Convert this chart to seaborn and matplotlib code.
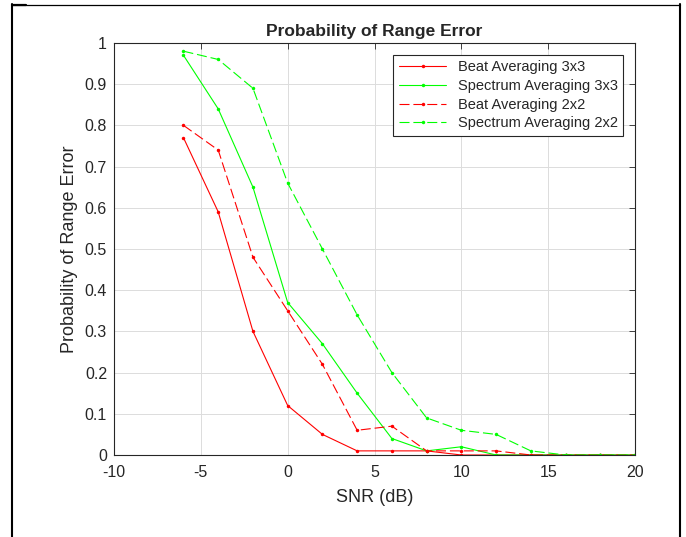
import numpy as np
import matplotlib
matplotlib.use("Agg")
import matplotlib.pyplot as plt
import seaborn as sns
from matplotlib.lines import Line2D
from matplotlib.ticker import FuncFormatter

# valores
snr_db = [-6, -4, -2, 0, 2, 4, 6, 8, 10, 12, 14, 16, 18, 20]
beat_3x3 = [0.77, 0.59, 0.30, 0.12, 0.05, 0.01, 0.01, 0.01, 0.00, 0.00, 0.00, 0.00, 0.00, 0.00]
spectrum_3x3 = [0.97, 0.84, 0.65, 0.37, 0.27, 0.15, 0.04, 0.01, 0.02, 0.00, 0.00, 0.00, 0.00, 0.00]
beat_2x2 = [0.80, 0.74, 0.48, 0.35, 0.22, 0.06, 0.07, 0.01, 0.01, 0.01, 0.00, 0.00, 0.00, 0.00]
spectrum_2x2 = [0.98, 0.96, 0.89, 0.66, 0.50, 0.34, 0.20, 0.09, 0.06, 0.05, 0.01, 0.00, 0.00, 0.00]

series_names = ["Beat Averaging 3x3", "Spectrum Averaging 3x3",
                "Beat Averaging 2x2", "Spectrum Averaging 2x2"]
series_values = [beat_3x3, spectrum_3x3, beat_2x2, spectrum_2x2]
series_colors = ["#ff0000", "#00ff00", "#ff0000", "#00ff00"]
series_styles = ["-", "-", "--", "--"]

sns.set_theme(style="whitegrid")
plt.rcParams["font.family"] = ["Liberation Sans", "DejaVu Sans"]
plt.rcParams["axes.unicode_minus"] = False

axis_col = "#262626"

fig = plt.figure(figsize=(6.86, 5.37), dpi=100)
ax = fig.add_axes([0.1662, 0.1527, 0.7595, 0.7673])
ax.set_facecolor("white")

for name, vals, col, ls in zip(series_names, series_values, series_colors, series_styles):
    sns.lineplot(x=snr_db, y=vals, ax=ax, color=col, linestyle=ls, linewidth=0.8,
                 marker=".", markersize=5, markeredgewidth=0, label=name)
    if ls == "--":
        ax.lines[-1].set_dashes((9, 3.5))

ax.set_xlim(-10, 20)
ax.set_ylim(0, 1)
ax.set_xticks(np.arange(-10, 21, 5))
ax.set_yticks(np.arange(0, 1.01, 0.1))
ax.yaxis.set_major_formatter(FuncFormatter(lambda v, p: f"{v:.1f}".rstrip("0").rstrip(".")))

ax.grid(True, color="#dcdcdc", linewidth=0.7)
for sp in ax.spines.values():
    sp.set_color(axis_col)
    sp.set_linewidth(0.8)
ax.tick_params(axis="both", direction="in", length=4, width=0.6, color=axis_col,
               labelcolor=axis_col, labelsize=11.5, top=True, right=True)
ax.tick_params(axis="x", pad=7)
ax.tick_params(axis="y", pad=5)

ax.set_title("Probability of Range Error", fontsize=12.5, fontweight="bold", pad=5)
ax.set_xlabel("SNR (dB)", fontsize=13, color=axis_col, labelpad=7)
ax.set_ylabel("Probability of Range Error", fontsize=13, color=axis_col, labelpad=5)

leg = ax.legend(loc="upper right", fontsize=10.5, frameon=True, fancybox=False,
                edgecolor=axis_col, framealpha=1, handlelength=3.2,
                borderaxespad=0.8, labelspacing=0.32)
leg.get_frame().set_linewidth(0.8)

# moldura preta à volta da figura
W, H = 686, 537
def fx(px):
    return px / W
def fy(py):
    return 1 - py / H
fig.add_artist(Line2D([fx(12), fx(12)], [fy(4), fy(537)], color="black", linewidth=1.5))
fig.add_artist(Line2D([fx(12), fx(680)], [fy(4.8), fy(4.8)], color="black", linewidth=0.9))
fig.add_artist(Line2D([fx(12), fx(26)], [fy(4.8), fy(4.8)], color="black", linewidth=1.6))
fig.add_artist(Line2D([fx(680), fx(680)], [fy(4), fy(537)], color="black", linewidth=1.5))

fig.savefig("out.png", dpi=100)
